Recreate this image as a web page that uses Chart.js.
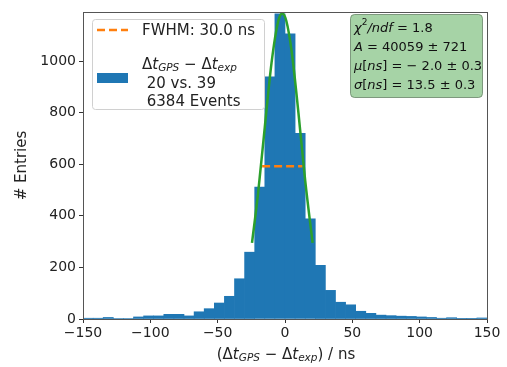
<!DOCTYPE html>
<html>
<head>
<meta charset="utf-8">
<script src="https://cdn.jsdelivr.net/npm/chart.js@4.4.1/dist/chart.umd.min.js"></script>
<style>
  html, body { margin: 0; padding: 0; background: #fff; }
  #wrap { width: 507px; height: 367px; }
</style>
</head>
<body>
<div id="wrap"><canvas id="hist" width="507" height="367"></canvas></div>
<script>
// histogram bins (centres, ns) and entries per bin
var binCenters = [-146.25, -138.75, -131.25, -123.75, -116.25, -108.75, -101.25, -93.75, -86.25, -78.75,
                  -71.25, -63.75, -56.25, -48.75, -41.25, -33.75, -26.25, -18.75, -11.25, -3.75,
                  3.75, 11.25, 18.75, 26.25, 33.75, 41.25, 48.75, 56.25, 63.75, 71.25,
                  78.75, 86.25, 93.75, 101.25, 108.75, 116.25, 123.75, 131.25, 138.75, 146.25];
var entries = [3, 3, 6, 2, 2, 8, 12, 12, 18, 18,
               12, 28, 40, 62, 88, 156, 259, 511, 939, 1183,
               1105, 720, 388, 208, 111, 65, 55, 30, 22, 15,
               13, 11, 10, 8, 6, 3, 5, 1, 1, 4];

// gaussian fit curve
var fitX = [-24.5, -20, -15, -10, -5, -2, 1, 5, 10, 15, 20.5];
var fitY = [295, 487, 744, 993, 1155, 1184, 1155, 1035, 798, 536, 295];

// FWHM marker
var fwhmX = [-17, 13];
var fwhmY = [592, 592];

var xTicks = [-150, -100, -50, 0, 50, 100, 150];
var yTicks = [0, 200, 400, 600, 800, 1000];

var fitLines = [
    [["χ", 13, true], ["2", 9, false, -6], ["/", 13, true], ["ndf", 13, true], [" = 1.8", 13, false]],
    [["A", 13, true], [" = 40059 ± 721", 13, false]],
    [["μ", 13, true], ["[", 13, false], ["ns", 13, true], ["] = − 2.0 ± 0.3", 13, false]],
    [["σ", 13, true], ["[", 13, false], ["ns", 13, true], ["] = 13.5 ± 0.3", 13, false]]
];

var FONT = "'DejaVu Sans', sans-serif";

function fontStr(size, italic) {
    return (italic ? 'oblique ' : '') + size + 'px ' + FONT;
}

// draw text made of runs (text, size, italic, dy)
function drawRuns(ctx, x, y, parts, align) {
    var total = 0;
    parts.forEach(function (p) {
        ctx.font = fontStr(p[1], p[2]);
        total += ctx.measureText(p[0]).width;
    });
    if (align === 'center') x -= total / 2;
    ctx.textBaseline = 'middle';
    ctx.textAlign = 'left';
    parts.forEach(function (p) {
        ctx.font = fontStr(p[1], p[2]);
        ctx.fillText(p[0], x, y + (p[3] || 0));
        x += ctx.measureText(p[0]).width;
    });
}

function roundRect(ctx, x, y, w, h, r) {
    ctx.beginPath();
    ctx.moveTo(x + r, y);
    ctx.lineTo(x + w - r, y);
    ctx.quadraticCurveTo(x + w, y, x + w, y + r);
    ctx.lineTo(x + w, y + h - r);
    ctx.quadraticCurveTo(x + w, y + h, x + w - r, y + h);
    ctx.lineTo(x + r, y + h);
    ctx.quadraticCurveTo(x, y + h, x, y + h - r);
    ctx.lineTo(x, y + r);
    ctx.quadraticCurveTo(x, y, x + r, y);
    ctx.closePath();
}

var extras = {
    id: 'extras',
    afterDraw: function (chart) {
        var ctx = chart.ctx;
        var a = chart.chartArea;
        ctx.save();

        // frame
        ctx.strokeStyle = '#555';
        ctx.lineWidth = 1;
        ctx.strokeRect(Math.round(a.left) + 0.5, Math.round(a.top) + 0.5,
                       Math.round(a.right - a.left), Math.round(a.bottom - a.top));

        // legend
        roundRect(ctx, 92.5, 19.5, 172, 90, 3);
        ctx.fillStyle = 'rgba(255,255,255,0.85)';
        ctx.fill();
        ctx.strokeStyle = '#d0d0d0';
        ctx.stroke();

        ctx.strokeStyle = '#ff7f0e';
        ctx.lineWidth = 2.5;
        ctx.setLineDash([8, 4]);
        ctx.beginPath();
        ctx.moveTo(97, 30);
        ctx.lineTo(128, 30);
        ctx.stroke();
        ctx.setLineDash([]);
        ctx.fillStyle = '#1f77b4';
        ctx.fillRect(97, 73, 31, 10);

        ctx.fillStyle = '#222';
        drawRuns(ctx, 142, 31, [["FWHM: 30.0 ns", 15, false]]);
        drawRuns(ctx, 142, 65, [["Δ", 15, false], ["t", 15, true], ["GPS", 10.5, true, 3],
                                 [" − ", 15, false], ["Δ", 15, false], ["t", 15, true], ["exp", 10.5, true, 3]]);
        drawRuns(ctx, 142, 84, [[" 20 vs. 39", 15, false]]);
        drawRuns(ctx, 142, 102, [[" 6384 Events", 15, false]]);

        // fit result box
        roundRect(ctx, 350.5, 14.5, 132, 83, 4);
        ctx.fillStyle = 'rgba(0,128,0,0.35)';
        ctx.fill();
        ctx.strokeStyle = 'rgba(90,120,90,0.7)';
        ctx.lineWidth = 1;
        ctx.stroke();
        ctx.fillStyle = '#111';
        fitLines.forEach(function (line, i) {
            drawRuns(ctx, 354, 28.5 + i * 19, line);
        });

        // x axis title
        ctx.fillStyle = '#222';
        drawRuns(ctx, 286, 355, [["(Δ", 15, false], ["t", 15, true], ["GPS", 10.5, true, 3],
                                  [" − ", 15, false], ["Δ", 15, false], ["t", 15, true], ["exp", 10.5, true, 3],
                                  [") / ns", 15, false]], 'center');
        ctx.restore();
    }
};

var ctx = document.getElementById('hist').getContext('2d');
var myChart = new Chart(ctx, {
    type: 'bar',
    data: {
        datasets: [{
            type: 'line',
            label: 'fit',
            data: fitX.map(function (x, i) { return {x: x, y: fitY[i]}; }),
            borderColor: '#2ca02c',
            borderWidth: 2.5,
            pointRadius: 0,
            cubicInterpolationMode: 'monotone',
            order: 1
        },
        {
            type: 'line',
            label: 'FWHM: 30.0 ns',
            data: fwhmX.map(function (x, i) { return {x: x, y: fwhmY[i]}; }),
            borderColor: '#ff7f0e',
            borderWidth: 2.5,
            borderDash: [8, 4],
            pointRadius: 0,
            order: 2
        },
        {
            label: 'entries',
            data: binCenters.map(function (x, i) { return {x: x, y: entries[i]}; }),
            backgroundColor: '#1f77b4',
            borderWidth: 0,
            barPercentage: 1,
            categoryPercentage: 1,
            order: 3
        }]
    },
    options: {
        responsive: false,
        animation: false,
        layout: { padding: { top: 12, right: 20, left: 0, bottom: 0 } },
        plugins: {
            legend: { display: false },
            tooltip: { enabled: false }
        },
        scales: {
            x: {
                type: 'linear',
                offset: false,
                min: -150,
                max: 150,
                afterBuildTicks: function (s) { s.ticks = xTicks.map(function (v) { return {value: v}; }); },
                afterFit: function (s) { s.height = 48; },
                grid: { drawOnChartArea: false, tickLength: 4, color: '#333', offset: false },
                border: { color: '#555' },
                ticks: {
                    color: '#222',
                    font: { family: FONT, size: 14 },
                    padding: 2,
                    maxRotation: 0,
                    callback: function (v) { return String(v).replace('-', '\u2212'); }
                }
            },
            y: {
                min: 0,
                max: 1190,
                afterBuildTicks: function (s) { s.ticks = yTicks.map(function (v) { return {value: v}; }); },
                afterFit: function (s) { s.width = 83; },
                grid: { drawOnChartArea: false, tickLength: 4, color: '#333' },
                border: { color: '#555' },
                title: {
                    display: true,
                    text: '# Entries',
                    color: '#222',
                    font: { family: FONT, size: 15 },
                    padding: { top: 13, bottom: 0 }
                },
                ticks: {
                    color: '#222',
                    font: { family: FONT, size: 14 },
                    padding: 3,
                    callback: function (v) { return String(v); }
                }
            }
        }
    },
    plugins: [extras]
});
</script>
</body>
</html>
